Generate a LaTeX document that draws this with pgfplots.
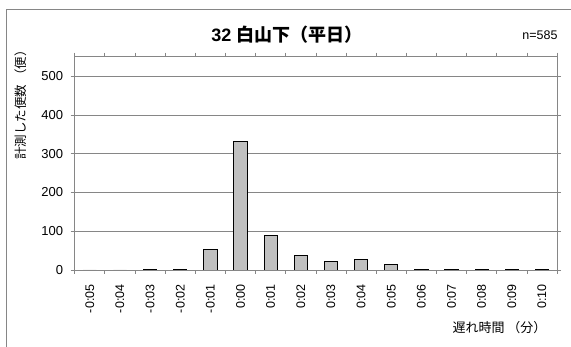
\documentclass[border=0pt]{standalone}
\usepackage{pgfplots}
\pgfplotsset{compat=1.18}
\usepackage{fontspec}
\setmainfont{Liberation Sans}
\newfontfamily\jp{Noto Sans CJK JP}
\definecolor{axisgray}{RGB}{134,134,134}
\definecolor{barfill}{RGB}{192,192,192}
\begin{document}
\begin{tikzpicture}[x=1pt,y=1pt]
\useasboundingbox (0,0) rectangle (571,347);
\draw[axisgray, line width=0.8pt] (6,-20) -- (6,338) -- (620,338);
\begin{axis}[
    at={(74.7pt,77pt)}, anchor=south west,
    scale only axis,
    width=482.3pt, height=213.3pt,
    xmin=-0.5, xmax=15.5,
    ymin=0, ymax=550,
    ytick={0,100,...,500},
    ymajorgrids,
    grid style={axisgray, line width=0.7pt},
    axis line style={axisgray, line width=0.9pt},
    tick style={axisgray, line width=0.7pt},
    tick align=outside,
    major tick length=4pt,
    /pgf/number format/assume math mode=true,
    yticklabel style={font=\fontsize{13}{15}\selectfont, text=black},
    yticklabel shift=4pt,
    xtick={0,...,15},
    xticklabels={-0:05,-0:04,-0:03,-0:02,-0:01,0:00,0:01,0:02,0:03,0:04,0:05,0:06,0:07,0:08,0:09,0:10},
    xtick style={draw=none},
    xticklabel style={font=\fontsize{12.5}{15}\selectfont, text=black, rotate=90, anchor=east},
    xticklabel shift=7pt,
    extra x ticks={-0.5,0.5,...,15.5},
    extra x tick labels={},
    extra x tick style={xtick style={draw=axisgray}, major tick length=4pt},
]
\addplot[ybar, bar width=0.44, fill=barfill, draw=black, line width=0.9pt] coordinates {
    (0,0) (1,0) (2,2) (3,2) (4,53) (5,331) (6,90) (7,38)
    (8,22) (9,26) (10,14) (11,2) (12,2) (13,2) (14,2) (15,2)
};
\end{axis}
\node[font=\bfseries\fontsize{18}{21}\selectfont] at (287,312) {32 {\jp\bfseries 白山下（平日）}};
\node[font=\fontsize{12.5}{14}\selectfont, anchor=east] at (561,312) {n=585};
\node[font=\jp\fontsize{12.5}{14}\selectfont, rotate=90] at (20.5,245) {計測した便数 （便）};
\node[font=\jp\fontsize{13}{15}\selectfont, anchor=east] at (550,19) {遅れ時間 （分）};
\end{tikzpicture}
\end{document}
